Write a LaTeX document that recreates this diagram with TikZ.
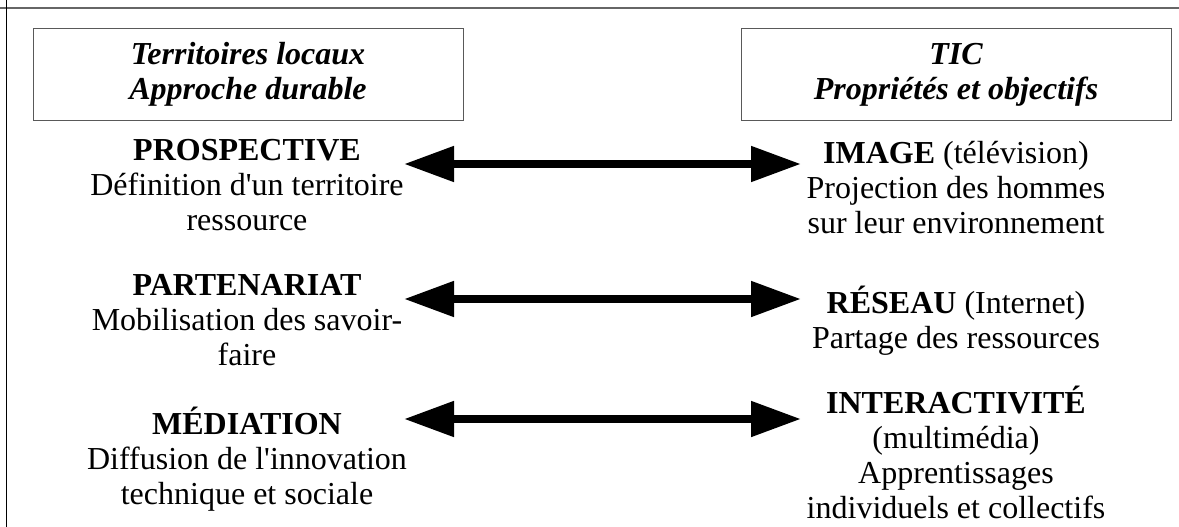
\documentclass[tikz,border=0pt]{standalone}
\usepackage{fontspec}
\setmainfont{Liberation Serif}[Ligatures=TeXOff]
\usetikzlibrary{arrows.meta}
\begin{document}
\begin{tikzpicture}[x=1pt,y=-1pt,
  txt/.style={align=center, inner sep=0pt, anchor=base, font=\fontsize{32}{35}\selectfont},
  hdr/.style={draw=black!65, line width=1pt, align=center, inner sep=0pt,
    minimum width=430pt, minimum height=91pt, font=\fontsize{32}{35}\selectfont\bfseries\itshape},
  arr/.style={line width=8pt, {Triangle[length=50pt,width=34pt]}-{Triangle[length=50pt,width=34pt]}},
  frame/.style={line width=1.2pt, draw=black!60}]
\useasboundingbox (0,0) rectangle (1179,527);
% frame lines
\coordinate (ftl) at (0,8);
\coordinate (ftr) at (1179,8);
\coordinate (flt) at (6,0);
\coordinate (flb) at (6,527);
\draw[frame] (ftl) -- (ftr);
\draw[line width=1pt] (flt) -- (flb);
% headers
\node[hdr] (hl) at (248,74.5) {Territoires locaux\\Approche durable};
\node[hdr] (hr) at (956,74.5) {TIC\\Propriétés et objectifs};
% left column (anchor = baseline of last line)
\node[txt] (l1) at (247,230) {\textbf{PROSPECTIVE}\\Définition d'un territoire\\ressource};
\node[txt] (l2) at (247,365) {\textbf{PARTENARIAT}\\Mobilisation des savoir-\\faire};
\node[txt] (l3) at (247,504) {\textbf{MÉDIATION}\\Diffusion de l'innovation\\technique et sociale};
% right column
\node[txt] (r1) at (956,233) {\textbf{IMAGE} (télévision)\\Projection des hommes\\sur leur environnement};
\node[txt] (r2) at (956,348) {\textbf{RÉSEAU} (Internet)\\Partage des ressources};
\node[txt] (r3) at (956,518) {\textbf{INTERACTIVITÉ}\\(multimédia)\\Apprentissages\\individuels et collectifs};
% arrows
\coordinate (a1l) at (404,164);
\coordinate (a1r) at (801,164);
\coordinate (a2l) at (404,299);
\coordinate (a2r) at (801,299);
\coordinate (a3l) at (404,419);
\coordinate (a3r) at (801,419);
\draw[arr] (a1l) -- (a1r);
\draw[arr] (a2l) -- (a2r);
\draw[arr] (a3l) -- (a3r);
\end{tikzpicture}
\end{document}
